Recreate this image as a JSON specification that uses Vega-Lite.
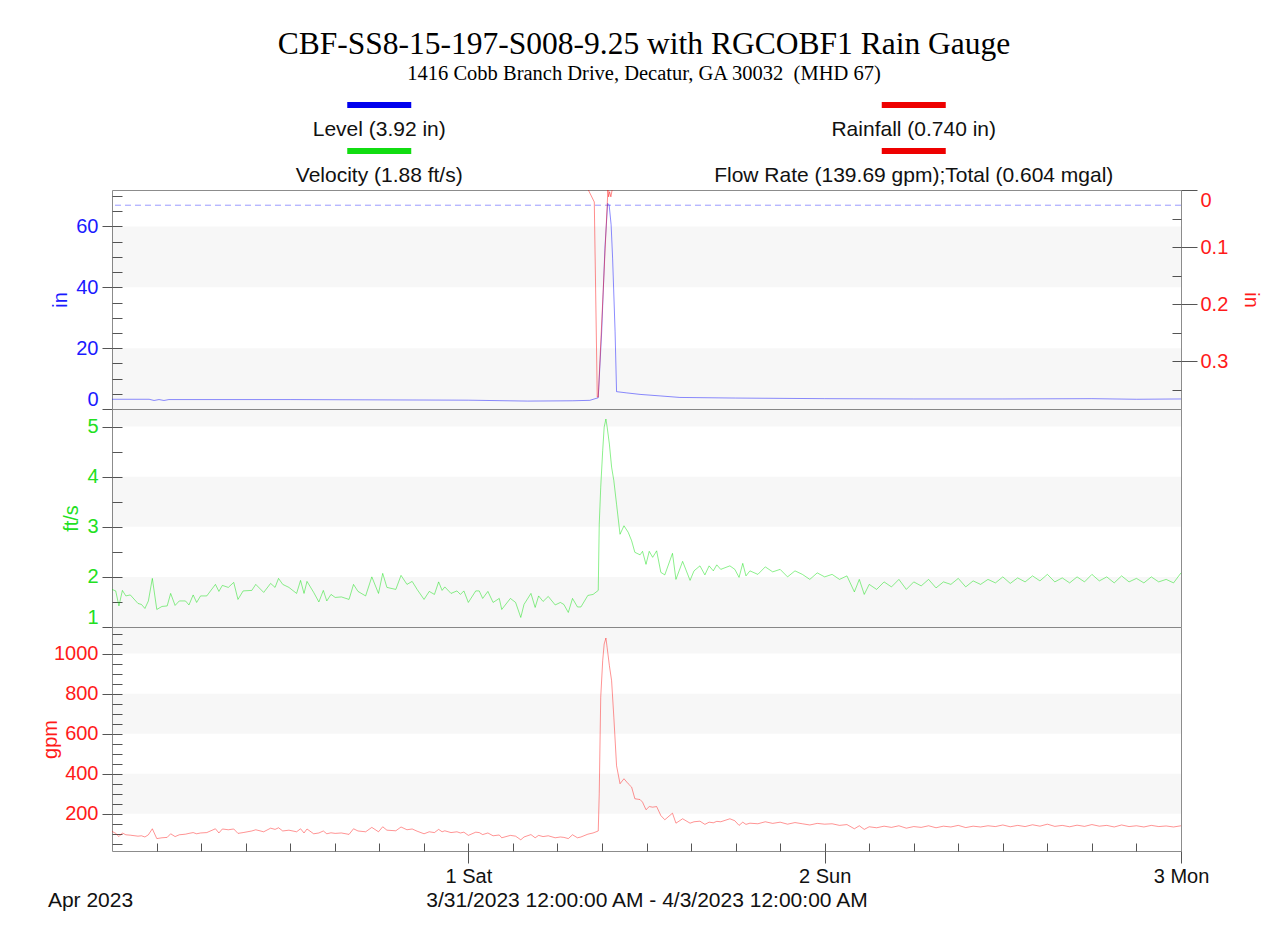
{
  "$schema": "https://vega.github.io/schema/vega-lite/v6.json",
  "background": "white",
  "padding": {"left": 39, "top": 29, "right": 5, "bottom": 3},
  "title": {
    "text": "CBF-SS8-15-197-S008-9.25 with RGCOBF1 Rain Gauge",
    "subtitle": "1416 Cobb Branch Drive, Decatur, GA 30032\u00a0 (MHD 67)",
    "font": "Liberation Serif", "fontSize": 31.5, "fontWeight": "normal", "color": "#000000",
    "subtitleFont": "Liberation Serif", "subtitleFontSize": 20.5, "subtitleColor": "#000000",
    "anchor": "middle", "offset": 11, "subtitlePadding": 3, "dx": -6
  },
  "datasets": {
    "legend": [
      {"name": "Level (3.92 in)", "col": 0, "row": 0},
      {"name": "Velocity (1.88 ft/s)", "col": 0, "row": 1},
      {"name": "Rainfall (0.740 in)", "col": 1, "row": 0},
      {"name": "Flow Rate (139.69 gpm);Total (0.604 mgal)", "col": 1, "row": 1}
    ],
    "rain": [
      {"t": "2023-04-01T08:05", "rain": 0},
      {"t": "2023-04-01T08:29", "rain": 0.021},
      {"t": "2023-04-01T08:41", "rain": 0.363},
      {"t": "2023-04-01T08:45", "rain": 0.363},
      {"t": "2023-04-01T09:24", "rain": 0},
      {"t": "2023-04-01T09:27", "rain": 0.012},
      {"t": "2023-04-01T09:31", "rain": 0.003},
      {"t": "2023-04-01T09:36", "rain": 0.012},
      {"t": "2023-04-01T09:41", "rain": 0}
    ],
    "lvl": [
      {"t": "2023-03-31T00:00", "level": 3.2},
      {"t": "2023-03-31T02:30", "level": 3.2},
      {"t": "2023-03-31T02:50", "level": 2.8},
      {"t": "2023-03-31T03:10", "level": 3.1},
      {"t": "2023-03-31T03:30", "level": 2.8},
      {"t": "2023-03-31T03:50", "level": 3.1},
      {"t": "2023-03-31T12:00", "level": 3.1},
      {"t": "2023-04-01T00:00", "level": 2.9},
      {"t": "2023-04-01T04:00", "level": 2.6},
      {"t": "2023-04-01T07:00", "level": 2.7},
      {"t": "2023-04-01T08:11", "level": 2.85},
      {"t": "2023-04-01T08:45", "level": 3.7},
      {"t": "2023-04-01T08:59", "level": 25.6},
      {"t": "2023-04-01T09:12", "level": 52.9},
      {"t": "2023-04-01T09:23", "level": 67.6},
      {"t": "2023-04-01T09:29", "level": 67.1},
      {"t": "2023-04-01T09:37", "level": 60.6},
      {"t": "2023-04-01T09:43", "level": 49.6},
      {"t": "2023-04-01T09:53", "level": 25.6},
      {"t": "2023-04-01T09:59", "level": 5.7},
      {"t": "2023-04-01T10:40", "level": 5.3},
      {"t": "2023-04-01T11:34", "level": 4.8},
      {"t": "2023-04-01T12:55", "level": 4.3},
      {"t": "2023-04-01T14:15", "level": 3.8},
      {"t": "2023-04-01T18:00", "level": 3.6},
      {"t": "2023-04-02T00:00", "level": 3.4},
      {"t": "2023-04-02T06:00", "level": 3.3},
      {"t": "2023-04-02T12:00", "level": 3.3},
      {"t": "2023-04-02T18:00", "level": 3.4},
      {"t": "2023-04-02T21:00", "level": 3.2},
      {"t": "2023-04-03T00:00", "level": 3.3}
    ],
    "vf": [
      {"t": "2023-03-31T00:00", "v": 1.75, "f": 112},
      {"t": "2023-03-31T00:15", "v": 1.72, "f": 102},
      {"t": "2023-03-31T00:28", "v": 1.42, "f": 86},
      {"t": "2023-03-31T00:42", "v": 1.73, "f": 104},
      {"t": "2023-03-31T00:56", "v": 1.62, "f": 95},
      {"t": "2023-03-31T01:14", "v": 1.64, "f": 93},
      {"t": "2023-03-31T01:45", "v": 1.47, "f": 88},
      {"t": "2023-03-31T01:59", "v": 1.45, "f": 90},
      {"t": "2023-03-31T02:13", "v": 1.37, "f": 84},
      {"t": "2023-03-31T02:27", "v": 1.52, "f": 95},
      {"t": "2023-03-31T02:43", "v": 1.97, "f": 125},
      {"t": "2023-03-31T03:01", "v": 1.35, "f": 76},
      {"t": "2023-03-31T03:22", "v": 1.41, "f": 80},
      {"t": "2023-03-31T03:43", "v": 1.42, "f": 82},
      {"t": "2023-03-31T03:57", "v": 1.67, "f": 100},
      {"t": "2023-03-31T04:15", "v": 1.43, "f": 86},
      {"t": "2023-03-31T04:32", "v": 1.52, "f": 95},
      {"t": "2023-03-31T04:57", "v": 1.52, "f": 98},
      {"t": "2023-03-31T05:11", "v": 1.44, "f": 102},
      {"t": "2023-03-31T05:28", "v": 1.64, "f": 106},
      {"t": "2023-03-31T05:42", "v": 1.49, "f": 100},
      {"t": "2023-03-31T05:58", "v": 1.62, "f": 104},
      {"t": "2023-03-31T06:23", "v": 1.62, "f": 106},
      {"t": "2023-03-31T06:58", "v": 1.85, "f": 125},
      {"t": "2023-03-31T07:12", "v": 1.71, "f": 104},
      {"t": "2023-03-31T07:26", "v": 1.83, "f": 124},
      {"t": "2023-03-31T07:50", "v": 1.79, "f": 120},
      {"t": "2023-03-31T08:12", "v": 1.89, "f": 124},
      {"t": "2023-03-31T08:29", "v": 1.55, "f": 102},
      {"t": "2023-03-31T08:50", "v": 1.72, "f": 106},
      {"t": "2023-03-31T09:25", "v": 1.73, "f": 114},
      {"t": "2023-03-31T09:41", "v": 1.85, "f": 120},
      {"t": "2023-03-31T10:13", "v": 1.69, "f": 110},
      {"t": "2023-03-31T10:41", "v": 1.87, "f": 128},
      {"t": "2023-03-31T10:59", "v": 1.79, "f": 122},
      {"t": "2023-03-31T11:13", "v": 1.97, "f": 130},
      {"t": "2023-03-31T11:30", "v": 1.85, "f": 114},
      {"t": "2023-03-31T11:55", "v": 1.79, "f": 118},
      {"t": "2023-03-31T12:26", "v": 1.67, "f": 110},
      {"t": "2023-03-31T12:42", "v": 1.93, "f": 125},
      {"t": "2023-03-31T12:56", "v": 1.67, "f": 104},
      {"t": "2023-03-31T13:08", "v": 1.91, "f": 124},
      {"t": "2023-03-31T13:35", "v": 1.69, "f": 100},
      {"t": "2023-03-31T13:56", "v": 1.50, "f": 104},
      {"t": "2023-03-31T14:14", "v": 1.73, "f": 114},
      {"t": "2023-03-31T14:28", "v": 1.52, "f": 100},
      {"t": "2023-03-31T14:45", "v": 1.65, "f": 105},
      {"t": "2023-03-31T15:02", "v": 1.59, "f": 102},
      {"t": "2023-03-31T15:27", "v": 1.60, "f": 104},
      {"t": "2023-03-31T15:58", "v": 1.55, "f": 97},
      {"t": "2023-03-31T16:16", "v": 1.85, "f": 125},
      {"t": "2023-03-31T16:34", "v": 1.71, "f": 114},
      {"t": "2023-03-31T17:05", "v": 1.62, "f": 110},
      {"t": "2023-03-31T17:30", "v": 2.00, "f": 132},
      {"t": "2023-03-31T17:57", "v": 1.67, "f": 110},
      {"t": "2023-03-31T18:14", "v": 2.07, "f": 135},
      {"t": "2023-03-31T18:31", "v": 1.79, "f": 118},
      {"t": "2023-03-31T19:07", "v": 1.75, "f": 115},
      {"t": "2023-03-31T19:28", "v": 2.03, "f": 134},
      {"t": "2023-03-31T19:52", "v": 1.85, "f": 120},
      {"t": "2023-03-31T20:13", "v": 1.91, "f": 124},
      {"t": "2023-03-31T20:33", "v": 1.75, "f": 113},
      {"t": "2023-03-31T21:01", "v": 1.55, "f": 100},
      {"t": "2023-03-31T21:22", "v": 1.71, "f": 110},
      {"t": "2023-03-31T21:43", "v": 1.65, "f": 106},
      {"t": "2023-03-31T22:00", "v": 1.90, "f": 122},
      {"t": "2023-03-31T22:14", "v": 1.73, "f": 110},
      {"t": "2023-03-31T22:25", "v": 1.80, "f": 115},
      {"t": "2023-03-31T22:50", "v": 1.67, "f": 106},
      {"t": "2023-03-31T23:14", "v": 1.72, "f": 110},
      {"t": "2023-03-31T23:28", "v": 1.65, "f": 104},
      {"t": "2023-03-31T23:42", "v": 1.72, "f": 108},
      {"t": "2023-04-01T00:00", "v": 1.49, "f": 92},
      {"t": "2023-04-01T00:30", "v": 1.72, "f": 108},
      {"t": "2023-04-01T00:44", "v": 1.72, "f": 106},
      {"t": "2023-04-01T00:58", "v": 1.57, "f": 96},
      {"t": "2023-04-01T01:19", "v": 1.71, "f": 104},
      {"t": "2023-04-01T01:40", "v": 1.49, "f": 90},
      {"t": "2023-04-01T02:05", "v": 1.57, "f": 94},
      {"t": "2023-04-01T02:15", "v": 1.35, "f": 80},
      {"t": "2023-04-01T02:50", "v": 1.57, "f": 92},
      {"t": "2023-04-01T03:11", "v": 1.49, "f": 88},
      {"t": "2023-04-01T03:32", "v": 1.19, "f": 70},
      {"t": "2023-04-01T03:45", "v": 1.45, "f": 84},
      {"t": "2023-04-01T04:13", "v": 1.67, "f": 96},
      {"t": "2023-04-01T04:30", "v": 1.39, "f": 80},
      {"t": "2023-04-01T04:44", "v": 1.62, "f": 92},
      {"t": "2023-04-01T05:02", "v": 1.51, "f": 86},
      {"t": "2023-04-01T05:23", "v": 1.61, "f": 90},
      {"t": "2023-04-01T05:51", "v": 1.44, "f": 80},
      {"t": "2023-04-01T06:12", "v": 1.49, "f": 84},
      {"t": "2023-04-01T06:26", "v": 1.45, "f": 82},
      {"t": "2023-04-01T06:44", "v": 1.29, "f": 76},
      {"t": "2023-04-01T07:01", "v": 1.57, "f": 95},
      {"t": "2023-04-01T07:21", "v": 1.40, "f": 80},
      {"t": "2023-04-01T07:35", "v": 1.40, "f": 84},
      {"t": "2023-04-01T08:03", "v": 1.63, "f": 98},
      {"t": "2023-04-01T08:24", "v": 1.65, "f": 104},
      {"t": "2023-04-01T08:45", "v": 1.73, "f": 114},
      {"t": "2023-04-01T08:49", "v": 3.05, "f": 300},
      {"t": "2023-04-01T08:55", "v": 3.79, "f": 782},
      {"t": "2023-04-01T09:03", "v": 4.52, "f": 965},
      {"t": "2023-04-01T09:09", "v": 4.99, "f": 1048},
      {"t": "2023-04-01T09:16", "v": 5.15, "f": 1078},
      {"t": "2023-04-01T09:21", "v": 4.99, "f": 1030},
      {"t": "2023-04-01T09:30", "v": 4.65, "f": 940},
      {"t": "2023-04-01T09:39", "v": 4.19, "f": 865},
      {"t": "2023-04-01T09:48", "v": 3.92, "f": 682},
      {"t": "2023-04-01T09:59", "v": 3.45, "f": 440},
      {"t": "2023-04-01T10:13", "v": 2.85, "f": 350},
      {"t": "2023-04-01T10:29", "v": 3.02, "f": 375},
      {"t": "2023-04-01T10:46", "v": 2.89, "f": 350},
      {"t": "2023-04-01T11:00", "v": 2.72, "f": 333},
      {"t": "2023-04-01T11:13", "v": 2.49, "f": 275},
      {"t": "2023-04-01T11:34", "v": 2.44, "f": 271},
      {"t": "2023-04-01T11:44", "v": 2.51, "f": 258},
      {"t": "2023-04-01T11:58", "v": 2.25, "f": 220},
      {"t": "2023-04-01T12:11", "v": 2.51, "f": 236},
      {"t": "2023-04-01T12:25", "v": 2.39, "f": 233},
      {"t": "2023-04-01T12:41", "v": 2.52, "f": 236},
      {"t": "2023-04-01T12:58", "v": 2.09, "f": 191},
      {"t": "2023-04-01T13:14", "v": 2.04, "f": 170},
      {"t": "2023-04-01T13:45", "v": 2.47, "f": 203},
      {"t": "2023-04-01T13:59", "v": 1.95, "f": 153},
      {"t": "2023-04-01T14:26", "v": 2.31, "f": 175},
      {"t": "2023-04-01T14:56", "v": 1.93, "f": 153},
      {"t": "2023-04-01T15:12", "v": 2.12, "f": 160},
      {"t": "2023-04-01T15:36", "v": 2.22, "f": 163},
      {"t": "2023-04-01T15:56", "v": 2.04, "f": 147},
      {"t": "2023-04-01T16:13", "v": 2.22, "f": 158},
      {"t": "2023-04-01T16:30", "v": 2.12, "f": 155},
      {"t": "2023-04-01T16:44", "v": 2.24, "f": 162},
      {"t": "2023-04-01T17:00", "v": 2.15, "f": 160},
      {"t": "2023-04-01T17:37", "v": 2.22, "f": 175},
      {"t": "2023-04-01T17:57", "v": 2.15, "f": 165},
      {"t": "2023-04-01T18:14", "v": 1.99, "f": 142},
      {"t": "2023-04-01T18:29", "v": 2.27, "f": 158},
      {"t": "2023-04-01T18:42", "v": 2.02, "f": 147},
      {"t": "2023-04-01T18:58", "v": 2.12, "f": 153},
      {"t": "2023-04-01T19:30", "v": 2.05, "f": 150},
      {"t": "2023-04-01T20:00", "v": 2.20, "f": 160},
      {"t": "2023-04-01T20:30", "v": 2.10, "f": 152},
      {"t": "2023-04-01T21:00", "v": 2.15, "f": 158},
      {"t": "2023-04-01T21:30", "v": 2.00, "f": 148},
      {"t": "2023-04-01T22:00", "v": 2.12, "f": 156},
      {"t": "2023-04-01T22:30", "v": 2.05, "f": 150},
      {"t": "2023-04-01T23:00", "v": 1.95, "f": 144},
      {"t": "2023-04-01T23:30", "v": 2.08, "f": 152},
      {"t": "2023-04-02T00:00", "v": 2.00, "f": 148},
      {"t": "2023-04-02T00:30", "v": 2.05, "f": 150},
      {"t": "2023-04-02T01:00", "v": 1.95, "f": 142},
      {"t": "2023-04-02T01:30", "v": 2.02, "f": 146},
      {"t": "2023-04-02T02:00", "v": 1.70, "f": 125},
      {"t": "2023-04-02T02:20", "v": 1.95, "f": 140},
      {"t": "2023-04-02T02:40", "v": 1.65, "f": 122},
      {"t": "2023-04-02T03:00", "v": 1.85, "f": 135},
      {"t": "2023-04-02T03:30", "v": 1.75, "f": 130},
      {"t": "2023-04-02T04:00", "v": 1.90, "f": 138},
      {"t": "2023-04-02T04:30", "v": 1.80, "f": 132},
      {"t": "2023-04-02T05:00", "v": 1.95, "f": 140},
      {"t": "2023-04-02T05:30", "v": 1.75, "f": 128},
      {"t": "2023-04-02T06:00", "v": 1.90, "f": 136},
      {"t": "2023-04-02T06:30", "v": 1.82, "f": 132},
      {"t": "2023-04-02T07:00", "v": 1.95, "f": 140},
      {"t": "2023-04-02T07:30", "v": 1.78, "f": 130},
      {"t": "2023-04-02T08:00", "v": 1.90, "f": 138},
      {"t": "2023-04-02T08:30", "v": 1.85, "f": 134},
      {"t": "2023-04-02T09:00", "v": 1.97, "f": 142},
      {"t": "2023-04-02T09:30", "v": 1.80, "f": 131},
      {"t": "2023-04-02T10:00", "v": 1.92, "f": 138},
      {"t": "2023-04-02T10:30", "v": 1.85, "f": 134},
      {"t": "2023-04-02T11:00", "v": 1.95, "f": 140},
      {"t": "2023-04-02T11:30", "v": 1.88, "f": 136},
      {"t": "2023-04-02T12:00", "v": 2.00, "f": 144},
      {"t": "2023-04-02T12:30", "v": 1.87, "f": 135},
      {"t": "2023-04-02T13:00", "v": 1.98, "f": 142},
      {"t": "2023-04-02T13:30", "v": 1.90, "f": 136},
      {"t": "2023-04-02T14:00", "v": 2.02, "f": 145},
      {"t": "2023-04-02T14:30", "v": 1.92, "f": 138},
      {"t": "2023-04-02T15:00", "v": 2.05, "f": 148},
      {"t": "2023-04-02T15:30", "v": 1.90, "f": 137},
      {"t": "2023-04-02T16:00", "v": 1.98, "f": 142},
      {"t": "2023-04-02T16:30", "v": 1.88, "f": 135},
      {"t": "2023-04-02T17:00", "v": 2.00, "f": 143},
      {"t": "2023-04-02T17:30", "v": 1.90, "f": 137},
      {"t": "2023-04-02T18:00", "v": 2.05, "f": 146},
      {"t": "2023-04-02T18:30", "v": 1.92, "f": 138},
      {"t": "2023-04-02T19:00", "v": 2.00, "f": 142},
      {"t": "2023-04-02T19:30", "v": 1.88, "f": 134},
      {"t": "2023-04-02T20:00", "v": 2.02, "f": 144},
      {"t": "2023-04-02T20:30", "v": 1.90, "f": 136},
      {"t": "2023-04-02T21:00", "v": 1.97, "f": 140},
      {"t": "2023-04-02T21:30", "v": 1.88, "f": 134},
      {"t": "2023-04-02T22:00", "v": 2.00, "f": 142},
      {"t": "2023-04-02T22:30", "v": 1.90, "f": 136},
      {"t": "2023-04-02T23:00", "v": 1.95, "f": 139},
      {"t": "2023-04-02T23:30", "v": 1.88, "f": 134},
      {"t": "2023-04-03T00:00", "v": 2.08, "f": 140}
    ]
  },
  "spacing": 0,
  "vconcat": [
    {
      "width": 1069, "height": 92,
      "view": {"stroke": null},
      "data": {"name": "legend"},
      "encoding": {
        "x": {"field": "col", "type": "ordinal", "scale": {"type": "point", "padding": 0.5}, "axis": null},
        "y": {"field": "row", "type": "ordinal", "scale": {"type": "point", "padding": 0.5}, "axis": null}
      },
      "layer": [
        {
          "mark": {"type": "point", "shape": "M-1,-0.09H1V0.09H-1Z", "size": 4096, "filled": true, "opacity": 1, "strokeWidth": 0, "yOffset": -13},
          "encoding": {
            "color": {"field": "name", "type": "nominal", "legend": null,
              "scale": {"domain": ["Level (3.92 in)", "Velocity (1.88 ft/s)", "Rainfall (0.740 in)", "Flow Rate (139.69 gpm);Total (0.604 mgal)"],
                        "range": ["#0000ee", "#11dd11", "#ee0000", "#ee0000"]}}
          }
        },
        {
          "mark": {"type": "text", "font": "Liberation Sans", "fontSize": 21, "color": "#111111", "yOffset": 12},
          "encoding": {"text": {"field": "name"}}
        }
      ]
    },
    {
      "spacing": 0,
      "bounds": "flush",
      "vconcat": [
        {
          "width": 1069, "height": 219,
          "resolve": {"scale": {"y": "independent"}, "axis": {"y": "independent"}},
          "layer": [
            {
              "data": {"values": [{"lo": 0, "hi": 20}, {"lo": 40, "hi": 60}]},
              "mark": {"type": "rect", "color": "#000000", "opacity": 0.032},
              "encoding": {
                "y": {"field": "lo", "type": "quantitative", "scale": {"domain": [0, 72], "nice": false, "zero": false},
                  "axis": {"orient": "left", "values": [0, 20, 40, 60], "tickSize": 10,
                    "labelColor": "#1a1aff", "labelFlush": true, "labelPadding": 4,
                    "title": "in", "titleColor": "#1a1aff", "titleX": -52, "titleY": 109.5, "titleBaseline": "middle"}},
                "y2": {"field": "hi"}
              }
            },
            {
              "data": {"values": [{"lim": 67}]},
              "mark": {"type": "rule", "color": "#9a9aff", "strokeDash": [6, 4], "strokeWidth": 1},
              "encoding": {"y": {"field": "lim", "type": "quantitative", "scale": {"domain": [0, 72], "nice": false, "zero": false},
                "axis": {"orient": "left", "values": [5, 10, 15, 20, 25, 30, 35, 40, 45, 50, 55, 60, 65, 70], "tickSize": -10, "labels": false, "title": null}}}
            },
            {
              "data": {"name": "lvl"},
              "mark": {"type": "line", "color": "#0000ff", "strokeWidth": 1, "opacity": 0.45},
              "encoding": {
                "x": {"field": "t", "type": "temporal", "scale": {"domain": [{"year": 2023, "month": 3, "date": 31}, {"year": 2023, "month": 4, "date": 3}]}, "axis": null},
                "y": {"field": "level", "type": "quantitative", "scale": {"domain": [0, 72], "nice": false, "zero": false}, "axis": null}
              }
            },
            {
              "data": {"name": "rain"},
              "mark": {"type": "line", "color": "#ff0000", "strokeWidth": 1, "opacity": 0.45},
              "encoding": {
                "x": {"field": "t", "type": "temporal", "scale": {"domain": [{"year": 2023, "month": 3, "date": 31}, {"year": 2023, "month": 4, "date": 3}]}, "axis": null},
                "y": {"field": "rain", "type": "quantitative", "scale": {"domain": [0, 0.384], "reverse": true, "nice": false, "zero": false},
                  "axis": {"orient": "right", "values": [0, 0.1, 0.2, 0.3], "format": "~g", "tickSize": 16,
                    "labelColor": "#ff1a1a", "labelFlush": true, "labelPadding": 3,
                    "title": "in", "titleColor": "#ff1a1a", "titleX": 69, "titleY": 109.5, "titleAngle": 90, "titleBaseline": "middle"}}
              }
            },
            {
              "data": {"name": "rain"},
              "mark": {"type": "line", "opacity": 0},
              "encoding": {
                "x": {"field": "t", "type": "temporal", "scale": {"domain": [{"year": 2023, "month": 3, "date": 31}, {"year": 2023, "month": 4, "date": 3}]}, "axis": null},
                "y": {"field": "rain", "type": "quantitative", "scale": {"domain": [0, 0.384], "reverse": true, "nice": false, "zero": false},
                  "axis": {"orient": "right", "values": [0.05, 0.1, 0.15, 0.2, 0.25, 0.3, 0.35], "tickSize": -9, "labels": false, "title": null}}
              }
            }
          ]
        },
        {
          "width": 1069, "height": 218,
          "resolve": {"axis": {"y": "independent"}},
          "layer": [
            {
              "data": {"values": [{"lo": 1, "hi": 2}, {"lo": 3, "hi": 4}, {"lo": 5, "hi": 5.35}]},
              "mark": {"type": "rect", "color": "#000000", "opacity": 0.032},
              "encoding": {
                "y": {"field": "lo", "type": "quantitative", "scale": {"domain": [1, 5.35], "nice": false, "zero": false},
                  "axis": {"orient": "left", "values": [1, 2, 3, 4, 5], "tickSize": 10,
                    "labelColor": "#22e022", "labelFlush": true, "labelPadding": 4,
                    "title": "ft/s", "titleColor": "#22e022", "titleX": -41, "titleY": 109, "titleBaseline": "middle"}},
                "y2": {"field": "hi"}
              }
            },
            {
              "data": {"name": "vf"},
              "mark": {"type": "line", "color": "#00dd00", "strokeWidth": 1, "opacity": 0.45},
              "encoding": {
                "x": {"field": "t", "type": "temporal", "scale": {"domain": [{"year": 2023, "month": 3, "date": 31}, {"year": 2023, "month": 4, "date": 3}]}, "axis": null},
                "y": {"field": "v", "type": "quantitative", "scale": {"domain": [1, 5.35], "nice": false, "zero": false},
                  "axis": {"orient": "left", "values": [1.5, 2, 2.5, 3, 3.5, 4, 4.5, 5], "tickSize": -10, "labels": false, "title": null}}
              }
            }
          ]
        },
        {
          "width": 1069, "height": 224,
          "resolve": {"axis": {"y": "independent", "x": "independent"}},
          "layer": [
            {
              "data": {"values": [{"lo": 200, "hi": 400}, {"lo": 600, "hi": 800}, {"lo": 1000, "hi": 1133}]},
              "mark": {"type": "rect", "color": "#000000", "opacity": 0.032},
              "encoding": {
                "y": {"field": "lo", "type": "quantitative", "scale": {"domain": [14, 1133], "nice": false, "zero": false},
                  "axis": {"orient": "left", "values": [200, 400, 600, 800, 1000], "format": "d", "tickSize": 10,
                    "labelColor": "#ff1a1a", "labelPadding": 4,
                    "title": "gpm", "titleColor": "#ff1a1a", "titleX": -62, "titleY": 112, "titleBaseline": "middle"}},
                "y2": {"field": "hi"}
              }
            },
            {
              "data": {"name": "vf"},
              "mark": {"type": "line", "color": "#ff0000", "strokeWidth": 1, "opacity": 0.42},
              "encoding": {
                "x": {"field": "t", "type": "temporal", "scale": {"domain": [{"year": 2023, "month": 3, "date": 31}, {"year": 2023, "month": 4, "date": 3}]},
                  "axis": {"orient": "bottom", "values": [{"year": 2023, "month": 4, "date": 1}, {"year": 2023, "month": 4, "date": 2}, {"year": 2023, "month": 4, "date": 3}],
                    "format": "%-d %a", "tickSize": 12, "labelFlush": false, "labelPadding": 3, "labelColor": "#111111",
                    "title": "3/31/2023 12:00:00 AM - 4/3/2023 12:00:00 AM", "titleFontSize": 21, "titleColor": "#111111",
                    "titleX": 534.5, "titleY": 49, "titleBaseline": "middle", "titleAlign": "center"}},
                "y": {"field": "f", "type": "quantitative", "scale": {"domain": [14, 1133], "nice": false, "zero": false},
                  "axis": {"orient": "left", "values": [50,100,150,250,300,350,450,500,550,650,700,750,850,900,950,1050,1100,200,400,600,800,1000], "tickSize": -10, "labels": false, "title": null}}
              }
            },
            {
              "data": {"name": "vf"},
              "mark": {"type": "line", "opacity": 0},
              "encoding": {
                "x": {"field": "t", "type": "temporal", "scale": {"domain": [{"year": 2023, "month": 3, "date": 31}, {"year": 2023, "month": 4, "date": 3}]},
                  "axis": {"orient": "bottom", "tickSize": -8, "labels": false,
                    "values": [
                      {"year": 2023, "month": 3, "date": 31, "hours": 3}, {"year": 2023, "month": 3, "date": 31, "hours": 6},
                      {"year": 2023, "month": 3, "date": 31, "hours": 9}, {"year": 2023, "month": 3, "date": 31, "hours": 12},
                      {"year": 2023, "month": 3, "date": 31, "hours": 15}, {"year": 2023, "month": 3, "date": 31, "hours": 18},
                      {"year": 2023, "month": 3, "date": 31, "hours": 21}, {"year": 2023, "month": 4, "date": 1, "hours": 0},
                      {"year": 2023, "month": 4, "date": 1, "hours": 3}, {"year": 2023, "month": 4, "date": 1, "hours": 6},
                      {"year": 2023, "month": 4, "date": 1, "hours": 9}, {"year": 2023, "month": 4, "date": 1, "hours": 12},
                      {"year": 2023, "month": 4, "date": 1, "hours": 15}, {"year": 2023, "month": 4, "date": 1, "hours": 18},
                      {"year": 2023, "month": 4, "date": 1, "hours": 21}, {"year": 2023, "month": 4, "date": 2, "hours": 0},
                      {"year": 2023, "month": 4, "date": 2, "hours": 3}, {"year": 2023, "month": 4, "date": 2, "hours": 6},
                      {"year": 2023, "month": 4, "date": 2, "hours": 9}, {"year": 2023, "month": 4, "date": 2, "hours": 12},
                      {"year": 2023, "month": 4, "date": 2, "hours": 15}, {"year": 2023, "month": 4, "date": 2, "hours": 18},
                      {"year": 2023, "month": 4, "date": 2, "hours": 21}
                    ],
                    "title": "Apr 2023", "titleFontSize": 21, "titleColor": "#111111",
                    "titleX": -22, "titleY": 49, "titleBaseline": "middle", "titleAlign": "center"}},
                "y": {"field": "f", "type": "quantitative", "scale": {"domain": [14, 1133], "nice": false, "zero": false}, "axis": null}
              }
            }
          ]
        }
      ]
    }
  ],
  "config": {
    "font": "Liberation Sans",
    "view": {"stroke": "#8c8c8c", "strokeWidth": 1},
    "axis": {"grid": false, "domain": false, "labelFont": "Liberation Sans", "labelFontSize": 20,
      "titleFont": "Liberation Sans", "titleFontSize": 20, "titleFontWeight": "normal",
      "tickColor": "#555555", "tickWidth": 1}
  }
}
